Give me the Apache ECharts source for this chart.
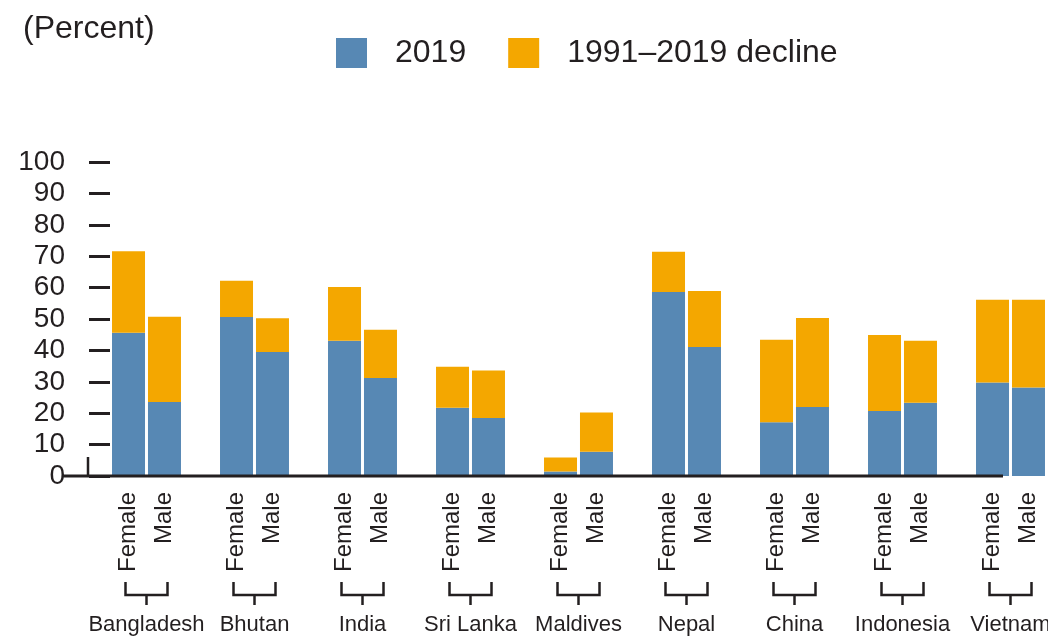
<!DOCTYPE html>
<html>
<head>
<meta charset="utf-8">
<script src="https://cdn.jsdelivr.net/npm/echarts@6/dist/echarts.min.js"></script>
<style>
html,body{margin:0;padding:0;background:#fff;}
#chart{width:1048px;height:636px;}
</style>
</head>
<body>
<div id="chart"></div>
<script>
const countries = ['Bangladesh','Bhutan','India','Sri Lanka','Maldives','Nepal','China','Indonesia','Vietnam'];
const female2019    = [45.6, 50.6, 43.1, 21.7, 1.4, 58.6, 17.1, 20.7, 29.8];
const femaleDecline = [26.0, 11.6, 17.1, 13.1, 4.5, 12.8, 26.3, 24.2, 26.3];
const male2019      = [23.6, 39.5, 31.2, 18.5, 7.7, 41.1, 22.0, 23.3, 28.2];
const maleDecline   = [27.1, 10.7, 15.4, 15.1, 12.5, 17.8, 28.3, 19.8, 27.9];
const yTicks = [0, 10, 20, 30, 40, 50, 60, 70, 80, 90, 100];

const FONT = '"Liberation Sans", Arial, sans-serif';
const INK = '#231f20';
const BLUE = '#5788b4';
const ORANGE = '#f4a700';

const chart = echarts.init(document.getElementById('chart'), null, {renderer: 'canvas'});

function sexLabel(text) {
  return {
    show: true, position: 'bottom', distance: 16, rotate: 90,
    align: 'right', verticalAlign: 'middle',
    formatter: text, color: INK, fontFamily: FONT, fontSize: 24
  };
}

const option = {
  animation: false,
  backgroundColor: '#fff',
  textStyle: {fontFamily: FONT, color: INK},
  title: {
    text: '(Percent)', left: 18, top: 8,
    textStyle: {fontFamily: FONT, fontSize: 32, fontWeight: 'normal', color: INK}
  },
  legend: {
    data: ['2019', '1991–2019 decline'],
    left: 331, top: 32,
    itemWidth: 31, itemHeight: 30, itemGap: 42,
    icon: 'rect',
    textStyle: {fontFamily: FONT, fontSize: 32, color: INK, padding: [0, 0, 0, 23]}
  },
  grid: {left: 92.5, top: 162, width: 972, height: 314, containLabel: false, outerBoundsMode: 'none'},
  xAxis: {
    type: 'category', data: countries,
    axisLine: {show: false}, axisTick: {show: false},
    axisLabel: {margin: 138, fontFamily: FONT, fontSize: 22, color: INK, interval: 0}
  },
  yAxis: {
    type: 'value', min: 0, max: 100, interval: 10,
    offset: 3.5,
    splitLine: {show: false},
    axisLine: {show: false},
    axisTick: {show: true, inside: true, length: 21, lineStyle: {color: INK, width: 3}},
    axisLabel: {margin: 24, fontFamily: FONT, fontSize: 28, color: INK,
      showMinLabel: true, showMaxLabel: true, hideOverlap: false,
      formatter: v => yTicks.indexOf(v) >= 0 ? String(v) : ''}
  },
  series: [
    {name: '2019', type: 'bar', stack: 'f', data: female2019, barWidth: 33, barGap: '9%',
     itemStyle: {color: BLUE}, label: sexLabel('Female')},
    {name: '1991–2019 decline', type: 'bar', stack: 'f', data: femaleDecline, barWidth: 33, barGap: '9%',
     itemStyle: {color: ORANGE}},
    {name: '2019', type: 'bar', stack: 'm', data: male2019, barWidth: 33, barGap: '9%',
     itemStyle: {color: BLUE}, label: sexLabel('Male')},
    {name: '1991–2019 decline', type: 'bar', stack: 'm', data: maleDecline, barWidth: 33, barGap: '9%',
     itemStyle: {color: ORANGE}},
    {
      name: 'brackets', type: 'custom', silent: true, clip: false,
      data: countries.map((c, i) => [i, 0]),
      encode: {x: 0, y: 1},
      renderItem: function (params, api) {
        const p = api.coord([api.value(0), 0]);
        const x = p[0], y = p[1];
        const st = {stroke: INK, lineWidth: 2.5, fill: null};
        return {
          type: 'group',
          children: [
            {type: 'polyline', shape: {points: [[x - 21, y + 106], [x - 21, y + 119], [x + 21, y + 119], [x + 21, y + 106]]}, style: st},
            {type: 'line', shape: {x1: x, y1: y + 119, x2: x, y2: y + 129}, style: st}
          ]
        };
      }
    }
  ]
};
chart.setOption(option);

const y0 = chart.convertToPixel({yAxisIndex: 0}, 0);
chart.setOption({
  graphic: [
    {type: 'line', z: 100, shape: {x1: 62, y1: y0, x2: 1003, y2: y0}, style: {stroke: INK, lineWidth: 3}},
    {type: 'line', z: 100, shape: {x1: 88, y1: y0 - 19, x2: 88, y2: y0}, style: {stroke: INK, lineWidth: 2.5}}
  ]
});
</script>
</body>
</html>
